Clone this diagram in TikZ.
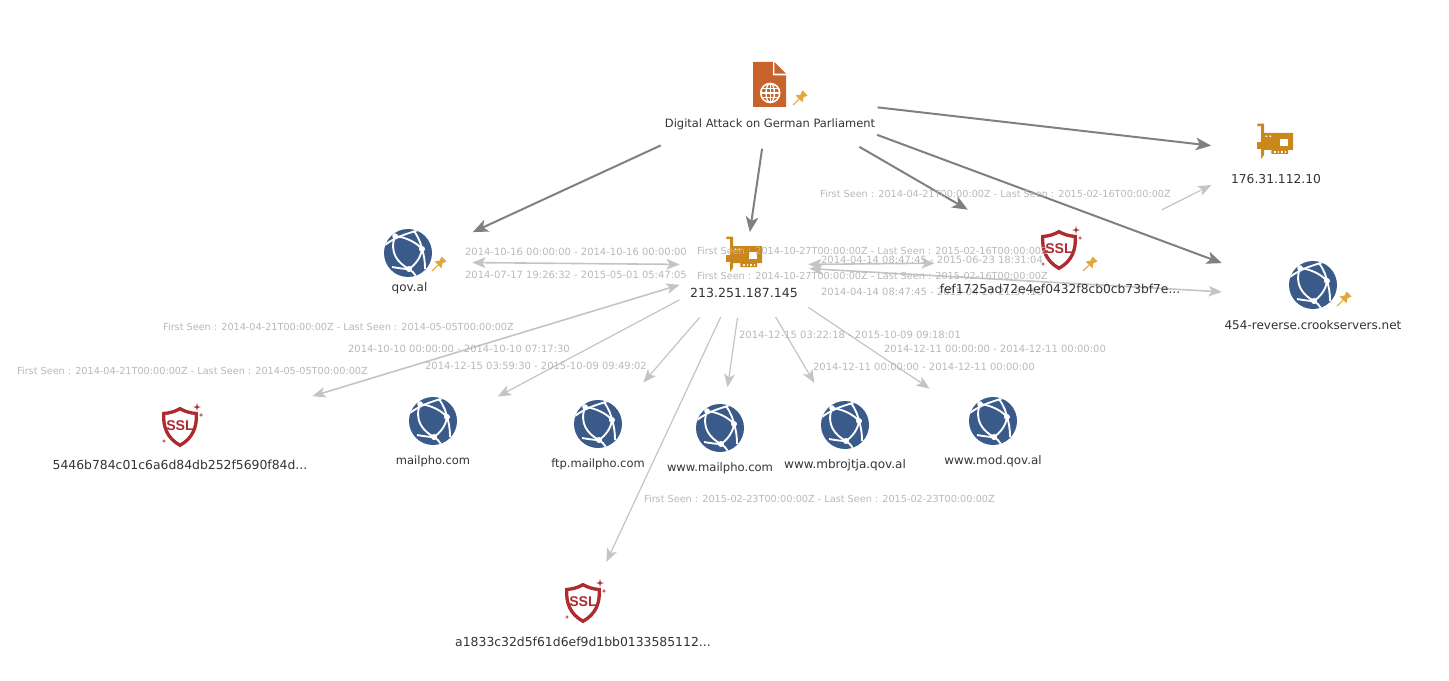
\documentclass[tikz,border=0pt]{standalone}
\usepackage{fontspec}
\setmainfont{DejaVu Sans}
\newfontfamily\sslfont{Liberation Sans}
\usetikzlibrary{arrows.meta}
\definecolor{globeblue}{HTML}{3A5A8A}
\definecolor{cardgold}{HTML}{C9871C}
\definecolor{sslred}{HTML}{AE2B30}
\definecolor{docorange}{HTML}{C8632B}
\definecolor{pingold}{HTML}{E2A63A}
\definecolor{namegray}{HTML}{333333}
\definecolor{seengray}{HTML}{B8B8B8}
\definecolor{darkedge}{HTML}{808080}
\definecolor{lightedge}{HTML}{C4C4C4}
\tikzset{
  hub/.style={inner sep=0pt,minimum size=0pt},
  namelabel/.style={font=\fontsize{#1}{11}\selectfont,text=namegray,inner sep=0pt},
  namelabel/.default=9,
  seenlabel/.style={font=\fontsize{7.48}{10}\selectfont,text=seengray,inner sep=0pt},
  firstlabel/.style={font=\fontsize{7.27}{10}\selectfont,text=seengray,inner sep=0pt},
  gap/.style 2 args={shorten <=#1*0.75pt,shorten >=#2*0.75pt},
  heavy/.style={draw=darkedge,line width=1.5pt,-{Stealth[length=11.5pt,width=9.5pt,inset=3pt]}},
  thin/.style={draw=lightedge,line width=0.9pt,-{Stealth[length=10pt,width=8pt,inset=2.6pt]}},
  thinboth/.style={draw=lightedge,line width=1.2pt,{Stealth[length=10pt,width=8pt,inset=2.6pt]}-{Stealth[length=10pt,width=8pt,inset=2.6pt]}},
  pinicon/.pic={
    \fill[pingold] (2.5,-7.5) -- (7.5,-2.5) -- (3.4,-0.6) -- (2.5,4.5) -- (-4.5,-2.5) -- (0.6,-3.4) -- cycle;
    \draw[pingold,line width=0.8pt] (-1,1) -- (-7,7);
  },
  globeicon/.pic={
    \fill[globeblue] (0,0) circle [radius=24];
    \begin{scope}
    \clip (0,0) circle [radius=24];
    \draw[white,line width=1.4pt] (-23,-8) .. controls (-10,-18) and (3,-20) .. (10,-23);
    \draw[white,line width=1.4pt] (-13,-17) .. controls (-3,-16) and (8,-11) .. (14,-4);
    \draw[white,line width=1.4pt] (-13,-17) .. controls (-19,0) and (-10,10) .. (1,16);
    \draw[white,line width=1.4pt] (14,-4) .. controls (13,4) and (8,11) .. (1,16);
    \draw[white,line width=1.4pt] (6,-22) .. controls (11,-15) and (13,-9) .. (14,-4) .. controls (16,2) and (17,8) .. (17,16);
    \draw[white,line width=1.4pt] (-16,14) .. controls (-10,15) and (-4,16) .. (1,16) .. controls (4,18) and (6,20) .. (8,23);
    \end{scope}
    \fill[white] (-13,-17) circle [radius=2.8] (14,-4) circle [radius=3] (1,16) circle [radius=3];
  },
  cardicon/.pic={
    \fill[cardgold] (-17.7,-17.3) -- (-11,-17.3) -- (-11,-8) -- (18,-8) -- (18,9) -- (13,9) -- (13,13) -- (-3.7,13) -- (-3.7,9) -- (-11,9) -- (-11,14) -- (-14,18) -- (-14,-14.8) -- (-17.7,-14.8) -- cycle;
    \fill[cardgold] (-17.7,1) rectangle (-14,7.7);
    \fill[white] (4.7,-2.3) rectangle (13,5.3);
    \fill[white] (-8.7,-4.7) circle [radius=1] (-4.7,-4.7) circle [radius=1];
    \foreach \pinx in {-1,2.5,6,9.5}{\fill[white] (\pinx,10) rectangle ++(1.6,2.2);}
  },
  sslicon/.pic={
    \draw[sslred,fill=white,line width=2.5pt] (0,-18.3) .. controls (-5,-15.5) and (-10,-14) .. (-16.3,-13.5) .. controls (-17,0) and (-13,11) .. (0,18.3) .. controls (13,11) and (17,0) .. (16.3,-13.5) .. controls (10,-14) and (5,-15.5) .. (0,-18.3) -- cycle;
    \node[text=sslred,inner sep=0pt,font=\sslfont\bfseries\fontsize{10.6}{10}\selectfont] (-mark) at (0,-1.5) {SSL};
    \fill[sslred] (17,-24) -- (17.8,-20.8) -- (21,-20) -- (17.8,-19.2) -- (17,-16) -- (16.2,-19.2) -- (13,-20) -- (16.2,-20.8) -- cycle;
    \fill[sslred] (21,-14.5) -- (21.5,-12.5) -- (23.5,-12) -- (21.5,-11.5) -- (21,-9.5) -- (20.5,-11.5) -- (18.5,-12) -- (20.5,-12.5) -- cycle;
    \fill[sslred] (-16,12) -- (-15.5,13.5) -- (-14,14) -- (-15.5,14.5) -- (-16,16) -- (-16.5,14.5) -- (-18,14) -- (-16.5,13.5) -- cycle;
  },
  reporticon/.pic={
    \fill[docorange] (-16.5,-22.5) -- (3.3,-22.5) -- (3.3,-9) -- (16.5,-9) -- (16.5,22.5) -- (-16.5,22.5) -- cycle;
    \fill[docorange] (4.9,-22.5) -- (16.5,-10.8) -- (4.9,-10.8) -- cycle;
    \draw[white,line width=1.2pt] (0.7,8.5) circle [radius=9.5];
    \draw[white,line width=1pt] (0.7,8.5) ellipse [x radius=4.2,y radius=9.5];
    \draw[white,line width=1pt] (0.7,-1) -- (0.7,18) (-8.8,8.5) -- (10.2,8.5) (-7.5,3.8) -- (8.9,3.8) (-7.5,13.2) -- (8.9,13.2);
  },
}
\begin{document}
\begin{tikzpicture}[x=0.75pt,y=0.75pt,yscale=-1,xscale=1,every pic/.style={yscale=-1}]
\useasboundingbox (0,0) rectangle (1449,681);

% Hubs
\node[hub] (report) at (770,95) {};
\node[hub] (ip) at (745,265) {};
\node[hub] (qov) at (408,262) {};
\node[hub] (card) at (1275,153) {};
\node[hub] (fef) at (1058,262) {};
\node[hub] (crook) at (1313,297) {};
\node[hub] (sslleft) at (181,436) {};
\node[hub] (mailpho) at (433,431) {};
\node[hub] (ftp) at (598,435) {};
\node[hub] (www) at (720,440) {};
\node[hub] (mbrojtja) at (845,435) {};
\node[hub] (mod) at (993,431) {};
\node[hub] (sslbottom) at (583,612) {};

%Straight Lines
\draw[thinboth,gap={64}{65}] (qov) -- (ip);
\draw[thinboth,gap={137}{68}] (sslleft) -- (ip);
\draw[thinboth,gap={63}{123}] (ip) -- (fef);
\draw[thinboth,gap={64}{91}] (ip) -- (crook);
\draw[thin,gap={74}{73}] (ip) -- (mailpho);
\draw[thin,gap={69}{69}] (ip) -- (ftp);
\draw[thin,gap={57}{55}] (ip) -- (sslbottom);
\draw[thin,gap={53}{53}] (ip) -- (www);
\draw[thin,gap={60}{60}] (ip) -- (mbrojtja);
\draw[thin,gap={76}{76}] (ip) -- (mod);
\draw[thin,gap={116}{71}] (fef) -- (card);
\draw[heavy,gap={120}{71}] (report) -- (qov);
\draw[heavy,gap={54}{33}] (report) -- (ip);
\draw[heavy,gap={108}{64}] (report) -- (card);
\draw[heavy,gap={103}{104}] (report) -- (fef);
\draw[heavy,gap={114}{97}] (report) -- (crook);

% Icons
\pic (reportpic) at (769.5,84.5) {reporticon};
\pic (reportpin) at (800,98) {pinicon};
\pic (qovpic) at (408,253) {globeicon};
\pic (qovpin) at (439,264) {pinicon};
\pic (crookpic) at (1313,285) {globeicon};
\pic (crookpin) at (1344,299) {pinicon};
\pic (mailphopic) at (433,421) {globeicon};
\pic (ftppic) at (598,424) {globeicon};
\pic (wwwpic) at (720,428) {globeicon};
\pic (mbrojtjapic) at (845,425) {globeicon};
\pic (modpic) at (993,421) {globeicon};
\pic (cardpic) at (1275,141) {cardicon};
\pic (ippic) at (744,254) {cardicon};
\pic (feficon) at (1059,250) {sslicon};
\pic (fefpin) at (1090,264) {pinicon};
\pic (sslleftpic) at (180,427) {sslicon};
\pic (sslbottompic) at (583,603) {sslicon};

% Text Node
\node[firstlabel] (seenA) at (338.5,327) {First Seen : 2014-04-21T00:00:00Z - Last Seen : 2014-05-05T00:00:00Z};
\node[firstlabel] (seenB) at (192.5,371) {First Seen : 2014-04-21T00:00:00Z - Last Seen : 2014-05-05T00:00:00Z};
\node[seenlabel] (seenC) at (459,349) {2014-10-10 00:00:00 - 2014-10-10 07:17:30};
\node[seenlabel] (seenD) at (536,366) {2014-12-15 03:59:30 - 2015-10-09 09:49:02};
\node[seenlabel] (seenE) at (576,252) {2014-10-16 00:00:00 - 2014-10-16 00:00:00};
\node[seenlabel] (seenF) at (576,275) {2014-07-17 19:26:32 - 2015-05-01 05:47:05};
\node[firstlabel] (seenG) at (872.5,251) {First Seen : 2014-10-27T00:00:00Z - Last Seen : 2015-02-16T00:00:00Z};
\node[firstlabel] (seenH) at (872.5,276) {First Seen : 2014-10-27T00:00:00Z - Last Seen : 2015-02-16T00:00:00Z};
\node[firstlabel] (seenI) at (995.5,194) {First Seen : 2014-04-21T00:00:00Z - Last Seen : 2015-02-16T00:00:00Z};
\node[seenlabel] (seenJ) at (932,260) {2014-04-14 08:47:45 - 2015-06-23 18:31:04};
\node[seenlabel] (seenK) at (932,292) {2014-04-14 08:47:45 - 2015-04-27 21:57:10};
\node[seenlabel] (seenL) at (850,335) {2014-12-15 03:22:18 - 2015-10-09 09:18:01};
\node[seenlabel] (seenM) at (995,349) {2014-12-11 00:00:00 - 2014-12-11 00:00:00};
\node[seenlabel] (seenN) at (924,367) {2014-12-11 00:00:00 - 2014-12-11 00:00:00};
\node[firstlabel] (seenO) at (819.5,499) {First Seen : 2015-02-23T00:00:00Z - Last Seen : 2015-02-23T00:00:00Z};

% Text Node
\node[namelabel=8.6] (reportname) at (770,124) {Digital Attack on German Parliament};
\node[namelabel] (qovname) at (409.5,288) {qov.al};
\node[namelabel=9.4] (ipname) at (744,293) {213.251.187.145};
\node[namelabel=9.2] (cardname) at (1276,179) {176.31.112.10};
\node[namelabel=9.2] (fefname) at (1060,289) {fef1725ad72e4ef0432f8cb0cb73bf7e...};
\node[namelabel] (crookname) at (1313,325) {454-reverse.crookservers.net};
\node[namelabel=9.3] (sslleftname) at (180,465) {5446b784c01c6a6d84db252f5690f84d...};
\node[namelabel=8.6] (mailphoname) at (433,461) {mailpho.com};
\node[namelabel=8.6] (ftpname) at (598,464) {ftp.mailpho.com};
\node[namelabel=8.7] (wwwname) at (720,468) {www.mailpho.com};
\node[namelabel] (mbrojtjaname) at (845,465) {www.mbrojtja.qov.al};
\node[namelabel=8.9] (modname) at (993,461) {www.mod.qov.al};
\node[namelabel=9.3] (sslbottomname) at (583,642) {a1833c32d5f61d6ef9d1bb0133585112...};

\end{tikzpicture}
\end{document}
